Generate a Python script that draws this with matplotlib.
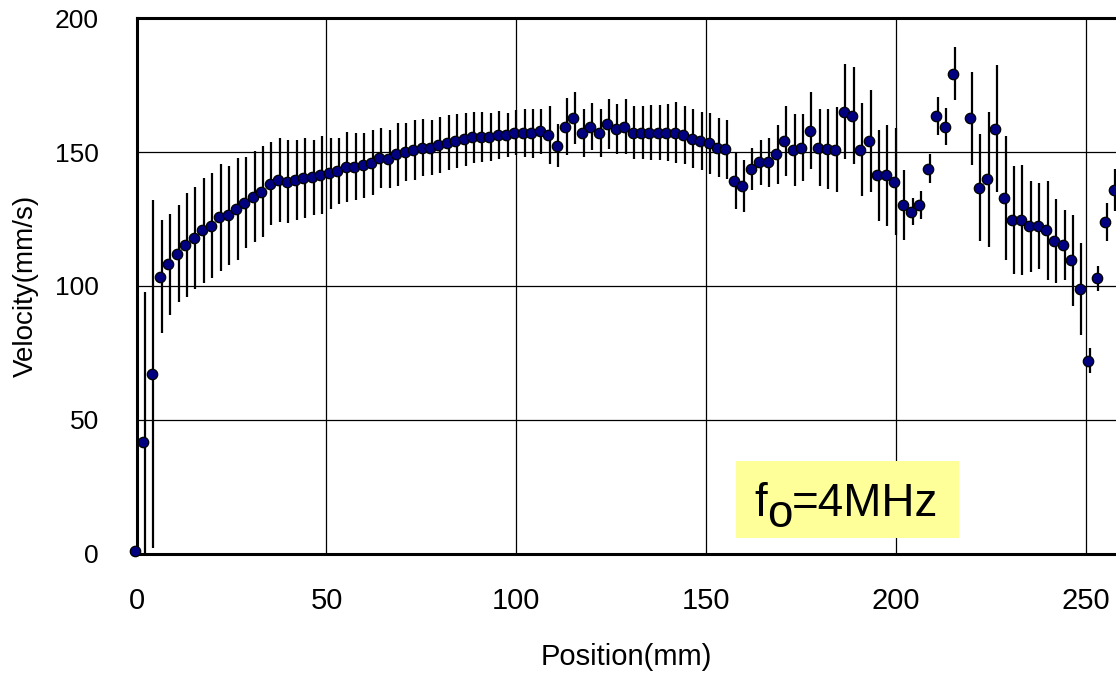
import matplotlib
matplotlib.use('Agg')
import matplotlib.pyplot as plt
from matplotlib.patches import Rectangle

plt.rcParams['font.family'] = ['Liberation Sans', 'DejaVu Sans']

# measurement positions (mm), one channel is missing near 217 mm
position = [-0.50, 1.72, 3.94, 6.17, 8.39, 10.61, 12.83, 15.05, 17.28, 19.50,
            21.72, 23.94, 26.16, 28.39, 30.61, 32.83, 35.05, 37.27, 39.50, 41.72,
            43.94, 46.16, 48.38, 50.61, 52.83, 55.05, 57.27, 59.49, 61.72, 63.94,
            66.16, 68.38, 70.60, 72.83, 75.05, 77.27, 79.49, 81.71, 83.94, 86.16,
            88.38, 90.60, 92.82, 95.05, 97.27, 99.49, 101.71, 103.93, 106.16, 108.38,
            110.60, 112.82, 115.04, 117.27, 119.49, 121.71, 123.93, 126.15, 128.38, 130.60,
            132.82, 135.04, 137.26, 139.49, 141.71, 143.93, 146.15, 148.37, 150.60, 152.82,
            155.04, 157.26, 159.48, 161.71, 163.93, 166.15, 168.37, 170.59, 172.82, 175.04,
            177.26, 179.48, 181.70, 183.93, 186.15, 188.37, 190.59, 192.81, 195.04, 197.26,
            199.48, 201.70, 203.92, 206.15, 208.37, 210.59, 212.81, 215.03, 219.48, 221.70,
            223.92, 226.14, 228.37, 230.59, 232.81, 235.03, 237.25, 239.48, 241.70, 243.92,
            246.14, 248.36, 250.59, 252.81, 255.03, 257.25]

velocity = [1.0, 41.8, 67.1, 103.5, 108.1, 112.1, 115.3, 117.9, 120.8, 122.6,
            125.7, 126.5, 128.8, 131.1, 133.4, 135.3, 138.2, 139.6, 139.0, 139.6,
            140.4, 140.6, 141.4, 142.1, 143.0, 144.4, 144.6, 145.1, 146.1, 147.7,
            147.5, 149.2, 150.1, 150.8, 151.7, 151.7, 152.6, 153.6, 154.2, 154.8,
            155.6, 155.6, 155.6, 156.4, 156.4, 157.3, 157.3, 157.1, 157.9, 156.4,
            152.5, 159.6, 162.9, 157.3, 159.6, 157.3, 160.6, 158.7, 159.6, 157.3,
            157.3, 157.3, 157.3, 157.3, 157.3, 156.4, 155.0, 154.2, 153.3, 151.7,
            151.1, 139.3, 137.4, 143.7, 146.2, 146.2, 149.3, 154.2, 150.8, 151.7,
            158.1, 151.7, 151.1, 151.0, 165.2, 163.6, 151.0, 154.2, 141.4, 141.4,
            139.0, 130.3, 127.8, 130.3, 143.9, 163.6, 159.6, 179.4, 162.7, 136.8,
            139.9, 158.8, 132.8, 124.7, 124.7, 122.4, 122.4, 120.9, 116.9, 115.3,
            109.7, 98.8, 72.0, 102.9, 124.0, 135.9]

error = [0, 56, 65, 21, 19, 18, 19.5, 19, 19.5, 19.5,
         20, 18.5, 19, 17, 17, 17, 15.5, 15.7, 15.5, 15,
         14.8, 13.9, 14.6, 13.4, 12.5, 13, 12.6, 12.2, 12.2, 11.2,
         11, 11.7, 11, 11.2, 10.6, 10.3, 10.4, 10.3, 10, 9.8,
         9.5, 9.3, 9, 8.9, 8.2, 8.5, 9, 9.1, 8.4, 10.8,
         8.2, 10.6, 9.8, 9, 8.7, 9, 9.3, 9.5, 10.3, 10,
         10, 10.3, 10.3, 10.6, 11.4, 10.8, 11, 11, 11.5, 11,
         11, 10.5, 9.7, 8, 8.3, 9.3, 11, 13, 13.4, 12.5,
         14.5, 14.5, 15, 15.9, 17.8, 18.1, 17.3, 18.9, 17, 18.9,
         19.9, 13, 5, 5.1, 5.5, 7, 7, 9.8, 17.3, 20,
         25.2, 23.7, 23.2, 20.2, 20.5, 17, 16, 18.5, 15.6, 13,
         17, 17.3, 4.7, 4.7, 7, 7.8]

x_ticks = [0, 50, 100, 150, 200, 250]
y_ticks = [0, 50, 100, 150, 200]

fig = plt.figure(figsize=(11.16, 6.75), dpi=100)
ax = fig.add_axes([0.1224, 0.18, 0.8776, 0.7926])

# bars sit a hair right of the markers in the original
bar_shift = 0.45
ax.errorbar([p + bar_shift for p in position], velocity, yerr=error, fmt='none',
            ecolor='black', elinewidth=1.6, capsize=0, zorder=3)
ax.plot(position, velocity, 'o', color='#000080', markersize=7.5,
        markeredgecolor='black', markeredgewidth=0.9, zorder=4, clip_on=False)

ax.set_xlim(0, 257.9)
ax.set_ylim(0, 200)
ax.set_xticks(x_ticks)
ax.set_yticks(y_ticks)
ax.grid(True, color='black', linewidth=0.9)
ax.set_axisbelow(True)
ax.tick_params(length=0)
ax.tick_params(axis='x', pad=24, labelsize=21)
ax.tick_params(axis='y', pad=27, labelsize=19)
for s in ['left', 'top', 'bottom']:
    ax.spines[s].set_linewidth(2.2)
ax.spines['right'].set_visible(False)

ax.set_xlabel('Position(mm)', fontsize=21, labelpad=20)
ax.set_ylabel('Velocity(mm/s)', fontsize=20, labelpad=12)

# yellow label box
ax.add_patch(Rectangle((157.9, 5.8), 58.7, 28.8, facecolor='#FFFF99',
                       edgecolor='none', zorder=2.5))
t1 = ax.text(162.6, 14.0, 'f', fontsize=33, va='baseline', zorder=5)
t2 = ax.annotate('o', xy=(1, 0), xycoords=t1, xytext=(0, -8),
                 textcoords='offset points', fontsize=33, va='bottom', zorder=5)
ax.annotate('=4MHz', xy=(1, 0), xycoords=t2, xytext=(0, 8),
            textcoords='offset points', fontsize=33, va='bottom', zorder=5)

fig.savefig('out.png', dpi=100)
